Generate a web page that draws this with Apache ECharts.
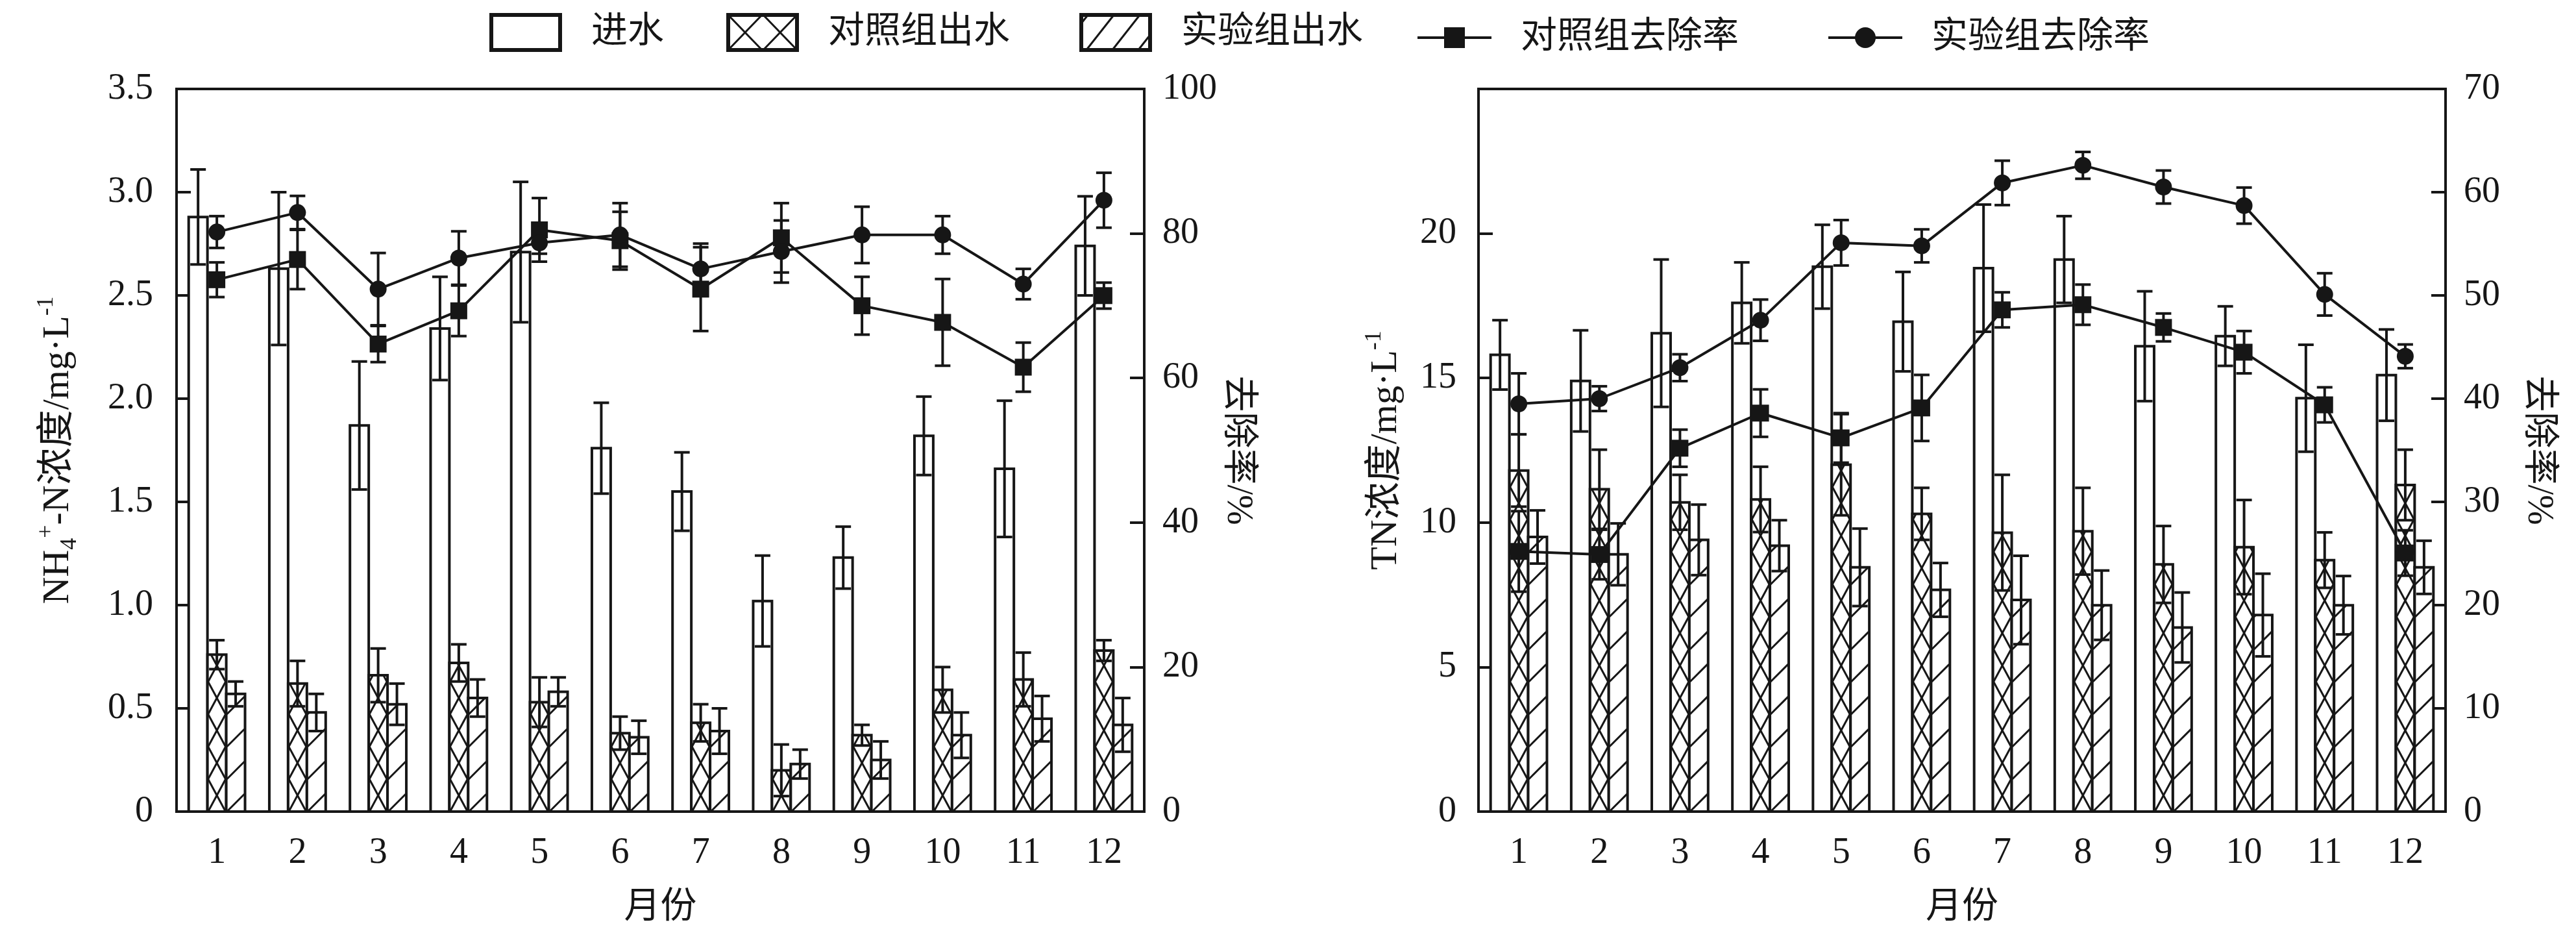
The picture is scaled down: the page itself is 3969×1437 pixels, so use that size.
<!DOCTYPE html>
<html lang="zh">
<head>
<meta charset="UTF-8">
<title>NH4+-N 与 TN 逐月去除</title>
<script src="https://cdn.jsdelivr.net/npm/echarts@6/dist/echarts.min.js"></script>
<style>
    * {
        margin: 0;
        padding: 0;
    }

    html,
    body {
        background: #fff;
    }

    #chart {
        width: 3969px;
        height: 1437px;
    }
</style>
</head>
<body>
<div id="chart"></div>
<script>
    // ---------------- 数据 ----------------
    const months = ['1', '2', '3', '4', '5', '6', '7', '8', '9', '10', '11', '12']

    // NH4+-N (mg/L)
    const nh4In = [2.88, 2.63, 1.87, 2.34, 2.71, 1.76, 1.55, 1.02, 1.23, 1.82, 1.66, 2.74]
    const nh4InErr = [0.23, 0.37, 0.31, 0.25, 0.34, 0.22, 0.19, 0.22, 0.15, 0.19, 0.33, 0.24]
    const nh4Ctrl = [0.76, 0.62, 0.66, 0.72, 0.53, 0.38, 0.43, 0.20, 0.37, 0.59, 0.64, 0.78]
    const nh4CtrlErr = [0.07, 0.11, 0.13, 0.09, 0.12, 0.08, 0.09, 0.125, 0.05, 0.11, 0.13, 0.05]
    const nh4Exp = [0.57, 0.48, 0.52, 0.55, 0.58, 0.36, 0.39, 0.23, 0.25, 0.37, 0.45, 0.42]
    const nh4ExpErr = [0.06, 0.09, 0.10, 0.09, 0.07, 0.08, 0.11, 0.07, 0.09, 0.11, 0.11, 0.13]
    // NH4+-N 去除率 (%)
    const nh4RateCtrl = [73.6, 76.4, 64.7, 69.3, 80.5, 79.0, 72.3, 79.4, 70.0, 67.7, 61.5, 71.4]
    const nh4RateCtrlErr = [2.4, 4.1, 2.5, 3.5, 4.4, 4.0, 5.8, 4.8, 4.0, 6.0, 3.4, 1.8]
    const nh4RateExp = [80.2, 82.9, 72.3, 76.6, 78.7, 79.8, 75.1, 77.5, 79.8, 79.8, 73.0, 84.6]
    const nh4RateExpErr = [2.2, 2.3, 5.0, 3.7, 1.5, 4.4, 3.5, 4.3, 3.9, 2.6, 2.1, 3.8]

    // TN (mg/L)
    const tnIn = [15.8, 14.9, 16.55, 17.6, 18.85, 16.95, 18.8, 19.1, 16.1, 16.45, 14.3, 15.1]
    const tnInErr = [1.2, 1.75, 2.55, 1.4, 1.45, 1.72, 2.2, 1.5, 1.9, 1.03, 1.85, 1.58]
    const tnCtrl = [11.8, 11.15, 10.7, 10.8, 12.0, 10.3, 9.65, 9.7, 8.55, 9.15, 8.7, 11.3]
    const tnCtrlErr = [1.25, 1.37, 0.95, 1.13, 1.75, 0.9, 2.0, 1.5, 1.33, 1.63, 0.96, 1.22]
    const tnExp = [9.5, 8.9, 9.4, 9.2, 8.45, 7.67, 7.32, 7.14, 6.37, 6.8, 7.14, 8.45]
    const tnExpErr = [0.92, 1.07, 1.22, 0.88, 1.34, 0.93, 1.53, 1.2, 1.21, 1.43, 1.01, 0.92]
    // TN 去除率 (%)
    const tnRateCtrl = [25.2, 24.9, 35.2, 38.6, 36.2, 39.1, 48.6, 49.1, 46.9, 44.5, 39.4, 25.05]
    const tnRateCtrlErr = [3.9, 2.4, 1.8, 2.3, 2.4, 3.2, 1.7, 1.95, 1.35, 2.05, 1.7, 2.2]
    const tnRateExp = [39.5, 40.0, 43.0, 47.6, 55.1, 54.8, 60.9, 62.6, 60.5, 58.7, 50.1, 44.1]
    const tnRateExpErr = [2.95, 1.2, 1.3, 2.0, 2.2, 1.6, 2.15, 1.3, 1.6, 1.75, 2.05, 1.15]

    // ---------------- 样式 ----------------
    const INK = '#161616'
    const FONT = "'Liberation Serif', 'Noto Sans CJK SC', serif"
    const HATCH_STEP = 50

    // 截掉高于柱顶的那一段
    function clipSeg(p, q, yTop) {
        if (p[1] < yTop && q[1] < yTop) return null
        if (p[1] >= yTop && q[1] >= yTop) return [p, q]
        const low = p[1] >= yTop ? p : q
        const high = p[1] >= yTop ? q : p
        const t = (low[1] - yTop) / (low[1] - high[1])
        return [low, [low[0] + t * (high[0] - low[0]), yTop]]
    }

    function hatch(kind, x0, x1, yTop, yBase) {
        const segs = []
        for (let yb = yBase; yb > yTop; yb -= HATCH_STEP) {
            if (kind === 'cross') {
                segs.push([[x0, yb], [x1, yb - HATCH_STEP]])
                segs.push([[x0, yb - HATCH_STEP], [x1, yb]])
            } else if (kind === 'slash') {
                segs.push([[x0, yb], [x1, yb - (x1 - x0)]])
            }
        }
        return segs.map(s => clipSeg(s[0], s[1], yTop)).filter(Boolean).map(s => ({
            type: 'line',
            shape: { x1: s[0][0], y1: s[0][1], x2: s[1][0], y2: s[1][1] },
            style: { stroke: INK, lineWidth: 3 }
        }))
    }

    function errorBar(cx, yHi, yLo) {
        const st = { stroke: INK, lineWidth: 4 }
        return [
            { type: 'line', shape: { x1: cx, y1: yHi, x2: cx, y2: yLo }, style: st },
            { type: 'line', shape: { x1: cx - 12, y1: yHi, x2: cx + 12, y2: yHi }, style: st },
            { type: 'line', shape: { x1: cx - 12, y1: yLo, x2: cx + 12, y2: yLo }, style: st }
        ]
    }

    // slot: 0 进水, 1 对照组, 2 实验组
    function barSeries(name, grid, vals, errs, slot, kind) {
        return {
            type: 'custom',
            name: name,
            xAxisIndex: grid,
            yAxisIndex: grid * 2,
            data: vals.map((v, i) => [i, v, errs[i]]),
            encode: { x: 0, y: 1 },
            z: 2,
            itemStyle: { color: '#fff', borderColor: INK },
            renderItem: function (params, api) {
                const i = api.value(0)
                const v = api.value(1)
                const e = api.value(2)
                const base = api.coord([i, 0])
                const top = api.coord([i, v])
                const w = api.size([1, 0])[0] * 0.233
                const cx = base[0] + (slot - 1) * w
                const x0 = cx - w / 2
                const x1 = cx + w / 2
                const children = [{
                    type: 'rect',
                    shape: { x: x0, y: top[1], width: w, height: base[1] - top[1] },
                    style: { fill: '#fff', stroke: INK, lineWidth: 4 }
                }]
                children.push(...hatch(kind, x0 + 1, x1 - 1, top[1], base[1]))
                children.push(...errorBar(cx, api.coord([i, v + e])[1], api.coord([i, v - e])[1]))
                return { type: 'group', children: children }
            }
        }
    }

    function rateLine(name, grid, vals, symbol) {
        return {
            type: 'line',
            name: name,
            xAxisIndex: grid,
            yAxisIndex: grid * 2 + 1,
            data: vals,
            symbol: symbol,
            symbolSize: 26,
            z: 6,
            lineStyle: { color: INK, width: 4 },
            itemStyle: { color: INK }
        }
    }

    function rateErr(name, grid, vals, errs) {
        return {
            type: 'custom',
            name: name,
            xAxisIndex: grid,
            yAxisIndex: grid * 2 + 1,
            data: vals.map((v, i) => [i, v, errs[i]]),
            encode: { x: 0, y: 1 },
            z: 4,
            renderItem: function (params, api) {
                const i = api.value(0)
                const v = api.value(1)
                const e = api.value(2)
                const c = api.coord([i, v])
                return {
                    type: 'group',
                    children: errorBar(c[0], api.coord([i, v + e])[1], api.coord([i, v - e])[1])
                }
            }
        }
    }

    // 图例方框用 canvas 画
    function legendBox(kind) {
        const cv = document.createElement('canvas')
        cv.width = 112
        cv.height = 60
        const g = cv.getContext('2d')
        g.fillStyle = '#fff'
        g.fillRect(0, 0, 112, 60)
        g.strokeStyle = INK
        g.lineWidth = 3
        if (kind === 'cross') {
            g.beginPath()
            g.moveTo(2, 58); g.lineTo(56, 2); g.moveTo(2, 2); g.lineTo(56, 58)
            g.moveTo(56, 58); g.lineTo(110, 2); g.moveTo(56, 2); g.lineTo(110, 58)
            g.stroke()
        } else if (kind === 'slash') {
            g.beginPath()
            for (let x = -30; x < 112; x += 40) {
                g.moveTo(x, 58); g.lineTo(x + 44, 2)
            }
            g.stroke()
        }
        g.lineWidth = 6
        g.strokeRect(3, 3, 106, 54)
        return 'image://' + cv.toDataURL()
    }

    const axisLine = { show: true, lineStyle: { color: INK, width: 4 } }
    const axisTick = { show: true, inside: true, length: 22, lineStyle: { color: INK, width: 4 } }
    const tickLabel = { fontSize: 56, fontFamily: FONT, color: INK }
    const nameStyle = {
        fontSize: 58,
        fontFamily: FONT,
        color: INK,
        rich: {
            a: { fontSize: 58, fontFamily: FONT, color: INK, lineHeight: 72 },
            sub: { fontSize: 36, fontFamily: FONT, color: INK, lineHeight: 36, verticalAlign: 'bottom' },
            sup: { fontSize: 36, fontFamily: FONT, color: INK, lineHeight: 36, verticalAlign: 'top' }
        }
    }
    const cnName = { fontSize: 56, fontFamily: FONT, color: INK }

    function catAxis(grid) {
        return {
            type: 'category',
            gridIndex: grid,
            data: months,
            boundaryGap: true,
            axisLine: axisLine,
            axisTick: { show: false },
            axisLabel: Object.assign({ margin: 36 }, tickLabel),
            splitLine: { show: false },
            name: '月份',
            nameLocation: 'middle',
            nameGap: 120,
            nameTextStyle: cnName
        }
    }

    const legendText = { fontSize: 56, fontFamily: FONT, color: INK, padding: [0, 0, 0, 40] }
    function legendAt(name, left, top, w, h, icon) {
        const item = { name: name }
        if (icon) item.icon = icon
        return {
            data: [item],
            left: left,
            top: top,
            itemWidth: w,
            itemHeight: h,
            textStyle: legendText,
            lineStyle: { width: 4, color: INK },
            selectedMode: false
        }
    }

    const chart = echarts.init(document.getElementById('chart'))

    const option = {
        animation: false,
        backgroundColor: '#fff',
        legend: [
            legendAt('进水', 749, 15, 112, 60, legendBox('plain')),
            legendAt('对照组出水', 1114, 15, 112, 60, legendBox('cross')),
            legendAt('实验组出水', 1658, 15, 112, 60, legendBox('slash')),
            legendAt('对照组去除率', 2177, 25, 114, 40),
            legendAt('实验组去除率', 2810, 25, 114, 40)
        ],
        grid: [
            { left: 272, right: 2206, top: 137, bottom: 187, show: true, borderColor: INK, borderWidth: 4 },
            { left: 2278, right: 201, top: 137, bottom: 187, show: true, borderColor: INK, borderWidth: 4 }
        ],
        xAxis: [catAxis(0), catAxis(1)],
        yAxis: [
            {
                type: 'value', gridIndex: 0, position: 'left',
                min: 0, max: 3.5, interval: 0.5,
                axisLine: axisLine, axisTick: axisTick, splitLine: { show: false },
                axisLabel: Object.assign({ margin: 36, formatter: v => v === 0 ? '0' : v.toFixed(1) }, tickLabel),
                name: '{a|NH}{sub|4}{sup|+}{a|-N浓度/mg·L}{sup|-1}',
                nameLocation: 'middle', nameGap: 146, nameTextStyle: nameStyle
            },
            {
                type: 'value', gridIndex: 0, position: 'right',
                min: 0, max: 100, interval: 20,
                axisLine: axisLine, axisTick: axisTick, splitLine: { show: false },
                axisLabel: Object.assign({ margin: 28 }, tickLabel),
                name: '去除率/%', nameLocation: 'middle', nameRotate: -90, nameGap: 96,
                nameTextStyle: cnName
            },
            {
                type: 'value', gridIndex: 1, position: 'left',
                min: 0, max: 25, interval: 5,
                axisLine: axisLine, axisTick: axisTick, splitLine: { show: false },
                axisLabel: Object.assign({ margin: 34, formatter: v => v === 25 ? '' : String(v) }, tickLabel),
                name: '{a|TN浓度/mg·L}{sup|-1}',
                nameLocation: 'middle', nameGap: 106, nameTextStyle: nameStyle
            },
            {
                type: 'value', gridIndex: 1, position: 'right',
                min: 0, max: 70, interval: 10,
                axisLine: axisLine, axisTick: axisTick, splitLine: { show: false },
                axisLabel: Object.assign({ margin: 28 }, tickLabel),
                name: '去除率/%', nameLocation: 'middle', nameRotate: -90, nameGap: 115,
                nameTextStyle: cnName
            }
        ],
        series: [
            rateLine('对照组去除率', 0, nh4RateCtrl, 'rect'),
            rateLine('实验组去除率', 0, nh4RateExp, 'circle'),
            rateLine('对照组去除率', 1, tnRateCtrl, 'rect'),
            rateLine('实验组去除率', 1, tnRateExp, 'circle'),
            barSeries('进水', 0, nh4In, nh4InErr, 0, 'plain'),
            barSeries('对照组出水', 0, nh4Ctrl, nh4CtrlErr, 1, 'cross'),
            barSeries('实验组出水', 0, nh4Exp, nh4ExpErr, 2, 'slash'),
            barSeries('进水', 1, tnIn, tnInErr, 0, 'plain'),
            barSeries('对照组出水', 1, tnCtrl, tnCtrlErr, 1, 'cross'),
            barSeries('实验组出水', 1, tnExp, tnExpErr, 2, 'slash'),
            rateErr('对照组去除率', 0, nh4RateCtrl, nh4RateCtrlErr),
            rateErr('实验组去除率', 0, nh4RateExp, nh4RateExpErr),
            rateErr('对照组去除率', 1, tnRateCtrl, tnRateCtrlErr),
            rateErr('实验组去除率', 1, tnRateExp, tnRateExpErr)
        ]
    }

    chart.setOption(option)
</script>
</body>
</html>
